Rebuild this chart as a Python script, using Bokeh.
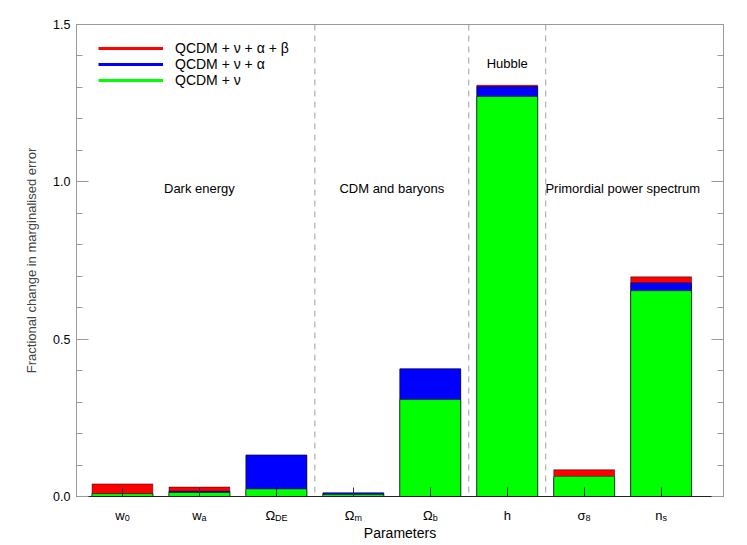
from bokeh.plotting import figure
from bokeh.layouts import column
from bokeh.models import (ColumnDataSource, Range1d, FixedTicker, SingleIntervalTicker,
                          LinearAxis, Span, Label, Legend, LegendItem,
                          CustomJSTickFormatter, NumeralTickFormatter)
from bokeh.core.properties import value
from bokeh.embed import file_html
from bokeh.resources import INLINE

# ---------------- data ----------------
param_main = ["w", "w", "\u03a9", "\u03a9", "\u03a9", "h", "\u03c3", "n"]
param_sub = ["0", "a", "DE", "m", "b", "", "8", "s"]
qcdm_nu = [0.009, 0.013, 0.024, 0.006, 0.308, 1.271, 0.064, 0.654]
qcdm_nu_alpha = [0.008, 0.017, 0.132, 0.012, 0.406, 1.303, 0.060, 0.679]
qcdm_nu_alpha_beta = [0.040, 0.030, 0.131, 0.010, 0.405, 1.307, 0.085, 0.698]
legend_labels = ["QCDM + \u03bd + \u03b1 + \u03b2", "QCDM + \u03bd + \u03b1", "QCDM + \u03bd"]
group_names = ["Dark energy", "CDM and baryons", "Hubble", "Primordial power spectrum"]
group_centres = [1.0, 3.5, 5.0, 6.5]
group_boundaries = [2.5, 4.5, 5.5]
x_title = "Parameters"
y_title = "Fractional change in marginalised error"

FONT = "Liberation Sans"
xs = list(range(len(param_main)))
xr = Range1d(-0.597, 7.81)

src = ColumnDataSource(dict(x=xs, g=qcdm_nu, b=qcdm_nu_alpha, r=qcdm_nu_alpha_beta))

MAIN_H = 503
p = figure(width=747, height=MAIN_H, output_backend="svg", toolbar_location=None,
           x_range=xr, y_range=Range1d(0, 1.5),
           min_border_left=76, min_border_right=24, min_border_top=24, min_border_bottom=7)
p.xgrid.visible = False
p.ygrid.visible = False
p.outline_line_color = "#9a9a9a"
p.background_fill_color = "white"
p.border_fill_color = "white"

# group separators
for bnd in group_boundaries:
    p.add_layout(Span(location=bnd, dimension="height", line_color="#a0a0a0",
                      line_dash="6 5", line_width=1, level="underlay"))

bw = 0.79
p.vbar(x="x", top="r", width=bw, source=src, fill_color="#ff0000", line_color="black", line_alpha=0.45)
p.vbar(x="x", top="b", width=bw, source=src, fill_color="#0000ff", line_color="black", line_alpha=0.45)
p.vbar(x="x", top="g", width=bw, source=src, fill_color="#00ff00", line_color="black", line_alpha=0.45)

# legend (line glyphs; renderers hold no visible data)
nan = float("nan")
lr = p.line(x=[nan], y=[nan], line_color="#ff0000", line_width=3)
lb = p.line(x=[nan], y=[nan], line_color="#0000ff", line_width=3)
lg = p.line(x=[nan], y=[nan], line_color="#00ff00", line_width=3)
legend = Legend(items=[LegendItem(label=legend_labels[0], renderers=[lr]),
                       LegendItem(label=legend_labels[1], renderers=[lb]),
                       LegendItem(label=legend_labels[2], renderers=[lg])],
                location=(22, 408), border_line_color=None, background_fill_alpha=0,
                padding=0, margin=0, spacing=0, glyph_width=65, glyph_height=14,
                label_height=14, label_standoff=12,
                label_text_font=FONT, label_text_font_size="14px", label_text_color="black")
p.add_layout(legend, "center")

# y axis (left)
yax = p.yaxis[0]
yax.ticker = SingleIntervalTicker(interval=0.5, num_minor_ticks=5)
yax.formatter = NumeralTickFormatter(format="0.0")
yax.axis_line_color = "#9a9a9a"
yax.major_tick_line_color = "#9a9a9a"
yax.minor_tick_line_color = "#9a9a9a"
yax.major_tick_in = 12
yax.major_tick_out = 0
yax.minor_tick_in = 6
yax.minor_tick_out = 0
yax.major_label_standoff = 6
yax.major_label_text_font = FONT
yax.major_label_text_font_size = "12.5px"
yax.major_label_text_color = "black"
yax.axis_label = y_title
yax.axis_label_text_font = FONT
yax.axis_label_text_font_size = "13px"
yax.axis_label_text_font_style = "normal"
yax.axis_label_standoff = 11

# right axis
rax = LinearAxis(ticker=SingleIntervalTicker(interval=0.5, num_minor_ticks=5),
                 formatter=CustomJSTickFormatter(code="return ''"))
rax.axis_line_color = "#9a9a9a"
rax.major_tick_line_color = "#9a9a9a"
rax.minor_tick_line_color = "#9a9a9a"
rax.major_tick_in = 12
rax.major_tick_out = 0
rax.minor_tick_in = 6
rax.minor_tick_out = 0
rax.major_label_standoff = 0
p.add_layout(rax, "right")

# x axis (ticks only; labels are drawn in the strip below)
xax = p.xaxis[0]
xax.ticker = FixedTicker(ticks=xs)
xax.major_label_overrides = {i: "" for i in xs}
xax.axis_line_color = "#222222"
xax.major_tick_line_color = "#333333"
xax.major_tick_in = 9
xax.major_tick_out = 0
xax.minor_tick_line_color = None
xax.major_label_standoff = 0

# group annotations
for name, cx in zip(group_names, group_centres):
    cy = 1.375 if name == "Hubble" else 0.978
    p.add_layout(Label(x=cx, y=cy, text=name, text_align="center", text_baseline="middle",
                       text_font=FONT, text_font_size="13px", text_color="black"))

# ---------------- strip below: parameter names with subscripts ----------------
STRIP_H = 545 - MAIN_H
q = figure(width=747, height=STRIP_H, output_backend="svg", toolbar_location=None,
           x_range=xr, y_range=Range1d(0, STRIP_H),
           x_axis_location=None, y_axis_location=None,
           min_border_left=76, min_border_right=24, min_border_top=0, min_border_bottom=0)
q.xgrid.visible = False
q.ygrid.visible = False
q.outline_line_color = None
q.background_fill_color = "white"
q.border_fill_color = "white"

main_w = {"w": 0.722, "\u03a9": 0.768, "h": 0.556, "\u03c3": 0.57, "n": 0.556}
sub_w = {"0": 0.556, "a": 0.556, "D": 0.722, "E": 0.667, "m": 0.833, "b": 0.556,
         "8": 0.556, "s": 0.5}
offs = []
for m, s in zip(param_main, param_sub):
    wm = main_w[m] * 13
    ws = sum(sub_w[c] for c in s) * 9
    offs.append((wm - ws) / 2)
# baselines, as pixel distances below the top of the strip
main_base = 515 - MAIN_H
sub_base = 517.5 - MAIN_H
title_base = 532 - MAIN_H
lab_src = ColumnDataSource(dict(x=xs, main=param_main, sub=param_sub, off=offs,
                                ym=[STRIP_H - main_base] * len(xs),
                                ys=[STRIP_H - sub_base] * len(xs)))
q.text(x="x", y="ym", text="main", x_offset="off", source=lab_src,
       text_align="right", text_baseline="alphabetic",
       text_font=value(FONT), text_font_size="13px", text_color="black")
q.text(x="x", y="ys", text="sub", x_offset="off", source=lab_src,
       text_align="left", text_baseline="alphabetic",
       text_font=value(FONT), text_font_size="9px", text_color="black")
q.add_layout(Label(x=(xr.start + xr.end) / 2, y=STRIP_H - title_base, text=x_title,
                   text_align="center", text_baseline="alphabetic",
                   text_font=FONT, text_font_size="14px", text_color="black"))

layout = column(p, q, spacing=0)
open("out.html", "w").write(file_html(layout, INLINE))
